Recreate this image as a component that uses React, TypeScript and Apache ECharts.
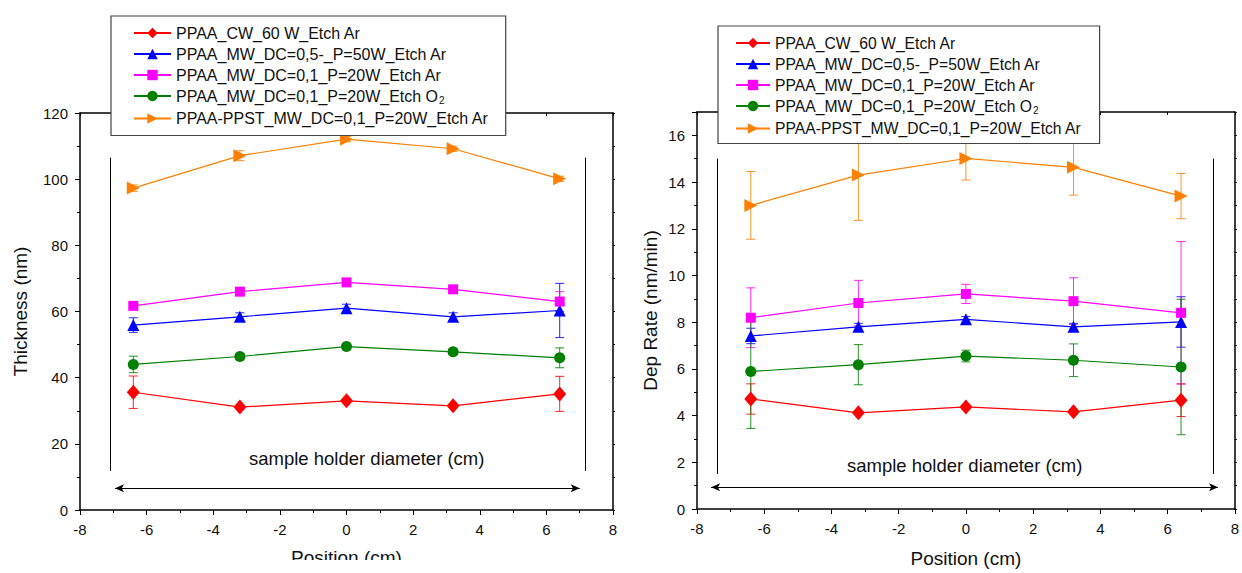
import React, { useEffect, useRef } from "react";
import * as echarts from "echarts";

// ---------- data ----------
const positions = [-6.4, -3.2, 0, 3.2, 6.4];

const seriesNames = [
  "PPAA_CW_60 W_Etch Ar",
  "PPAA_MW_DC=0,5-_P=50W_Etch Ar",
  "PPAA_MW_DC=0,1_P=20W_Etch Ar",
  "PPAA_MW_DC=0,1_P=20W_Etch O2",
  "PPAA-PPST_MW_DC=0,1_P=20W_Etch Ar",
];

// Thickness (nm)
const thickCW = [35.6, 31.1, 33.0, 31.5, 35.1];
const thickCWErr = [4.9, 0.5, 0.5, 0.5, 5.3];
const thickMW50 = [55.9, 58.4, 61.0, 58.4, 60.3];
const thickMW50Err = [2.2, 1.2, 1.2, 1.2, 8.2];
const thickMW20Ar = [61.7, 66.0, 68.8, 66.7, 63.0];
const thickMW20ArErr = [0.8, 0.8, 0.8, 0.8, 3.0];
const thickMW20O2 = [44.0, 46.4, 49.4, 47.8, 46.0];
const thickMW20O2Err = [2.5, 0.8, 0.8, 0.8, 3.0];
const thickPPST = [97.3, 107.1, 112.1, 109.2, 100.1];
const thickPPSTErr = [1.0, 1.5, 0.8, 0.8, 0.8];

// Dep Rate (nm/min)
const rateCW = [4.71, 4.12, 4.37, 4.16, 4.66];
const rateCWErr = [0.65, 0.08, 0.08, 0.08, 0.7];
const rateMW50 = [7.41, 7.8, 8.12, 7.8, 8.01];
const rateMW50Err = [0.33, 0.15, 0.12, 0.15, 1.08];
const rateMW20Ar = [8.19, 8.82, 9.21, 8.9, 8.4];
const rateMW20ArErr = [1.28, 0.97, 0.41, 1.0, 3.05];
const rateMW20O2 = [5.89, 6.18, 6.55, 6.37, 6.08];
const rateMW20O2Err = [2.44, 0.86, 0.25, 0.7, 2.9];
const ratePPST = [13.0, 14.3, 15.01, 14.63, 13.4];
const ratePPSTErr = [1.45, 1.94, 0.92, 1.19, 0.97];

const xTicks = [-8, 8, 2]; // min, max, interval
const thickAxis = [0, 120, 20];
const rateAxis = [0, 17, 2];

// ---------- style ----------
const colors = ["#ff0000", "#0000ff", "#ff00ff", "#008000", "#ff8000"];
const symbols = ["diamond", "triangle", "rect", "circle", "triangle"];
const symbolSizes: any[] = [[13, 15], 12, 10, 11, 13];
const symbolRotates = [0, 0, 0, 0, -90];
const FONT = "Liberation Sans, Arial, sans-serif";

export default function App() {
  const ref = useRef<HTMLDivElement>(null);

  useEffect(() => {
    if (!ref.current) return;
    const chart = echarts.init(ref.current, undefined, { renderer: "svg" });

    const thickVals = [thickCW, thickMW50, thickMW20Ar, thickMW20O2, thickPPST];
    const thickErrs = [thickCWErr, thickMW50Err, thickMW20ArErr, thickMW20O2Err, thickPPSTErr];
    const rateVals = [rateCW, rateMW50, rateMW20Ar, rateMW20O2, ratePPST];
    const rateErrs = [rateCWErr, rateMW50Err, rateMW20ArErr, rateMW20O2Err, ratePPSTErr];

    const makeX = (gridIndex: number, top: boolean, nameGap: number) => ({
      type: "value",
      gridIndex,
      position: top ? "top" : "bottom",
      min: xTicks[0],
      max: xTicks[1],
      interval: xTicks[2],
      name: top ? "" : "Position (cm)",
      nameLocation: "middle",
      nameGap,
      nameTextStyle: { fontSize: 19, color: "#111", fontFamily: FONT },
      axisLine: { show: true, onZero: false, lineStyle: { color: "#000", width: 1.5 } },
      axisTick: { show: true, inside: top, length: top ? 3 : 5, lineStyle: { color: "#000" } },
      minorTick: { show: !top, splitNumber: 2, length: 3, lineStyle: { color: "#000" } },
      axisLabel: { show: !top, fontSize: 15, color: "#111", margin: 12, fontFamily: FONT },
      splitLine: { show: false },
      minorSplitLine: { show: false },
    });

    const makeY = (gridIndex: number, right: boolean, ax: number[], name: string, nameGap: number) => ({
      type: "value",
      gridIndex,
      position: right ? "right" : "left",
      min: ax[0],
      max: ax[1],
      interval: ax[2],
      name: right ? "" : name,
      nameLocation: "middle",
      nameGap,
      nameTextStyle: { fontSize: 19, color: "#111", fontFamily: FONT },
      axisLine: { show: true, onZero: false, lineStyle: { color: "#000", width: 1.5 } },
      axisTick: { show: true, inside: false, length: right ? 2 : 5, lineStyle: { color: "#000" } },
      minorTick: { show: true, splitNumber: 2, length: right ? 2 : 3, lineStyle: { color: "#000" } },
      axisLabel: {
        show: !right,
        fontSize: 15,
        color: "#111",
        margin: 12,
        fontFamily: FONT,
        showMaxLabel: ax[1] % ax[2] === 0,
      },
      splitLine: { show: false },
      minorSplitLine: { show: false },
    });

    const series: any[] = [];
    const addPanel = (axisIdx: number, vals: number[][], errs: number[][]) => {
      vals.forEach((v, i) => {
        const c = colors[i];
        series.push({
          type: "custom",
          name: "err" + axisIdx + "_" + i,
          xAxisIndex: axisIdx,
          yAxisIndex: axisIdx,
          data: positions.map((x, j) => [x, v[j] - errs[i][j], v[j] + errs[i][j]]),
          encode: { x: 0, y: [1, 2] },
          z: 3,
          silent: true,
          renderItem: (params: any, api: any) => {
            const x = api.value(0);
            const p1 = api.coord([x, api.value(2)]);
            const p2 = api.coord([x, api.value(1)]);
            const w = 4.5;
            const st = { stroke: c, lineWidth: 1, opacity: 0.85 };
            return {
              type: "group",
              children: [
                { type: "line", shape: { x1: p1[0], y1: p1[1], x2: p2[0], y2: p2[1] }, style: st },
                { type: "line", shape: { x1: p1[0] - w, y1: p1[1], x2: p1[0] + w, y2: p1[1] }, style: st },
                { type: "line", shape: { x1: p2[0] - w, y1: p2[1], x2: p2[0] + w, y2: p2[1] }, style: st },
              ],
            };
          },
        });
        series.push({
          type: "line",
          name: seriesNames[i],
          xAxisIndex: axisIdx,
          yAxisIndex: axisIdx,
          data: positions.map((x, j) => [x, v[j]]),
          symbol: symbols[i],
          symbolSize: symbolSizes[i],
          symbolRotate: symbolRotates[i],
          showAllSymbol: true,
          z: 4,
          lineStyle: { color: c, width: 1.2 },
          itemStyle: { color: c, borderWidth: 0 },
        });
      });
    };
    addPanel(0, thickVals, thickErrs);
    addPanel(2, rateVals, rateErrs);

    const annotation = (axisIdx: number, xl: number, xr: number, y0: number, y1: number, ya: number, axl: number, axr: number) => ({
      type: "line",
      name: "annot" + axisIdx,
      xAxisIndex: axisIdx,
      yAxisIndex: axisIdx,
      data: [],
      silent: true,
      markLine: {
        silent: true,
        animation: false,
        label: { show: false },
        lineStyle: { color: "#000", width: 1, type: "solid" },
        data: [
          [{ coord: [xl, y0], symbol: "none" }, { coord: [xl, y1], symbol: "none" }],
          [{ coord: [xr, y0], symbol: "none" }, { coord: [xr, y1], symbol: "none" }],
          [
            { coord: [axl, ya], symbol: "arrow", symbolSize: [6, 9] },
            { coord: [axr, ya], symbol: "arrow", symbolSize: [6, 9] },
          ],
        ],
      },
    });
    series.push(annotation(0, -7.1, 7.18, 11.8, 106.5, 6.6, -6.95, 7.0));
    series.push(annotation(2, -7.39, 7.35, 1.5, 15.0, 0.93, -7.58, 7.5));

    const legendBase = {
      orient: "vertical",
      data: seriesNames,
      backgroundColor: "#fff",
      borderColor: "#444",
      borderWidth: 1.2,
      borderRadius: 0,
      itemGap: 5,
      itemHeight: 13,
      selectedMode: false,
      z: 10,
      formatter: (name: string) =>
        name.endsWith("O2") ? name.slice(0, -1) + "{sub|2}" : name,
    };

    chart.setOption({
      animation: false,
      backgroundColor: "#fff",
      textStyle: { fontFamily: FONT },
      grid: [
        { left: 80, top: 113, width: 533, height: 397, containLabel: false },
        { left: 697, top: 112, width: 540, height: 401, containLabel: false },
      ],
      xAxis: [makeX(0, false, 38), makeX(0, true, 0), makeX(1, false, 40), makeX(1, true, 0)],
      yAxis: [
        makeY(0, false, thickAxis, "Thickness (nm)", 50),
        makeY(0, true, thickAxis, "", 0),
        makeY(1, false, rateAxis, "Dep Rate (nm/min)", 37),
        makeY(1, true, rateAxis, "", 0),
      ],
      legend: [
        {
          ...legendBase,
          left: 111,
          top: 16,
          padding: [9, 17, 9, 22],
          itemWidth: 37,
          textStyle: {
            fontSize: 16,
            color: "#111",
            fontFamily: FONT,
            rich: { sub: { fontSize: 10, padding: [9, 0, 0, 1], color: "#111" } },
          },
        },
        {
          ...legendBase,
          left: 718,
          top: 26,
          padding: [9, 18, 7, 17],
          itemWidth: 34,
          textStyle: {
            fontSize: 15.7,
            color: "#111",
            fontFamily: FONT,
            rich: { sub: { fontSize: 10, padding: [9, 0, 0, 1], color: "#111" } },
          },
        },
      ],
      graphic: [
        {
          type: "text",
          x: 249,
          y: 458,
          style: {
            text: "sample holder diameter (cm)",
            fontSize: 18.5,
            fill: "#111",
            fontFamily: FONT,
            align: "left",
            verticalAlign: "middle",
          },
          z: 5,
        },
        {
          type: "text",
          x: 847,
          y: 465,
          style: {
            text: "sample holder diameter (cm)",
            fontSize: 18.5,
            fill: "#111",
            fontFamily: FONT,
            align: "left",
            verticalAlign: "middle",
          },
          z: 5,
        },
        {
          type: "rect",
          x: 0,
          y: 560,
          shape: { width: 625, height: 13 },
          style: { fill: "#fff" },
          z: 100,
        },
      ],
      series,
    });

    return () => chart.dispose();
  }, []);

  return (
    <div
      ref={ref}
      style={{ position: "fixed", left: 0, top: 0, width: 1242, height: 573, background: "#fff" }}
    />
  );
}
